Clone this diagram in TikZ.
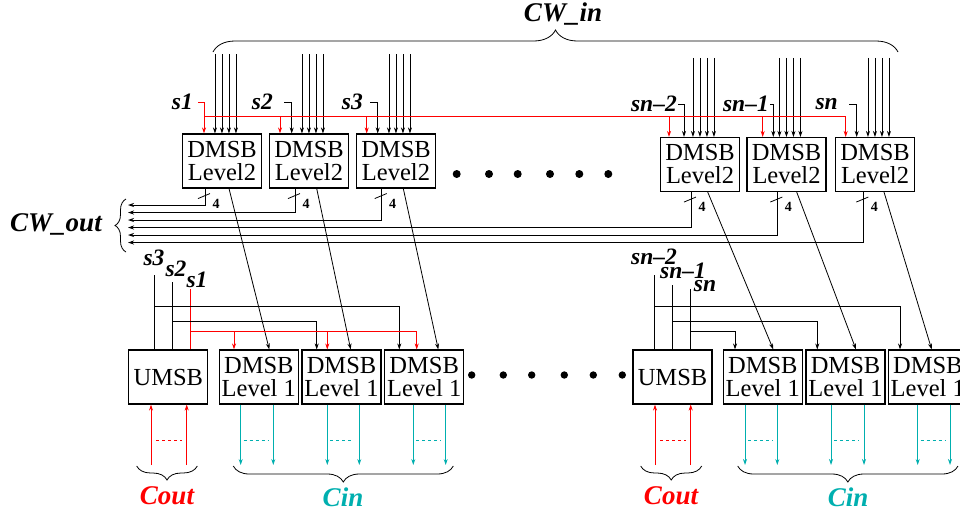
\documentclass[tikz,border=0pt]{standalone}
\usepackage{fontspec}
\setmainfont{Liberation Serif}
\usetikzlibrary{arrows.meta,calc,decorations.pathreplacing}
\definecolor{SelRed}{HTML}{FF0000}
\definecolor{CarryCyan}{HTML}{00AFAF}

\begin{document}
\begin{tikzpicture}[x=1pt,y=-1pt,
    block/.style={draw,line width=1.1pt,minimum width=79pt,minimum height=54pt,
      inner sep=0pt,align=center,font=\fontsize{24.5}{23}\selectfont},
    sel/.style={font=\fontsize{23.5}{24}\selectfont\bfseries\itshape,inner sep=1pt},
    bus/.style={font=\fontsize{27}{28}\selectfont\bfseries\itshape},
    width4/.style={font=\fontsize{14}{14}\selectfont\bfseries,inner sep=0pt},
    wire/.style={line width=0.8pt},
    arrow/.style={wire,-{Stealth[length=6pt,width=4pt]}},
    redarrow/.style={arrow,color=SelRed},
    cinarrow/.style={arrow,color=CarryCyan},
    curly/.style={decorate,decoration={brace,amplitude=#1},line width=0.8pt}
  ]
  \useasboundingbox (0,0) rectangle (960,515);
  \clip (0,0) rectangle (960,515);

  % level 2 blocks
  \node[block] (t1) at (222,161) {DMSB\\Level2};
  \node[block] (t2) at (309,161) {DMSB\\Level2};
  \node[block] (t3) at (396,161) {DMSB\\Level2};
  \node[block] (t4) at (700,164.5) {DMSB\\Level2};
  \node[block] (t5) at (786.5,164.5) {DMSB\\Level2};
  \node[block] (t6) at (875,164.5) {DMSB\\Level2};

  % level 1 blocks
  \node[block] (u1) at (168.3,377) {UMSB};
  \node[block] (d1) at (258.8,377) {DMSB\\Level 1};
  \node[block] (d2) at (341.5,377) {DMSB\\Level 1};
  \node[block] (d3) at (424.2,377) {DMSB\\Level 1};
  \node[block] (u2) at (672.5,377) {UMSB};
  \node[block] (d4) at (762.8,377) {DMSB\\Level 1};
  \node[block] (d5) at (845.5,377) {DMSB\\Level 1};
  \node[block] (d6) at (927.8,377) {DMSB\\Level 1};

  % CW_in bus
  \draw[curly=22] (213,52) -- (898,52);
  \node[bus] (cwin) at (563,14) {CW\textunderscore in};
  \foreach \i in {1,...,6}
    \foreach \d in {33,40,47,54}
      \draw[arrow] ([xshift=\d,yshift=79]t\i.north west) -- ([xshift=\d]t\i.north west);

  % select lines, level 2
  \node[sel,anchor=east] (s1t) at (194,102) {s1};
  \node[sel,anchor=east] (s2t) at (274,102) {s2};
  \node[sel,anchor=east] (s3t) at (364,102) {s3};
  \node[sel,anchor=east] (s4t) at (678,104) {sn–2};
  \node[sel,anchor=east] (s5t) at (770,104) {sn–1};
  \node[sel,anchor=east] (s6t) at (839,104) {sn};
  \coordinate (k1) at (204,0);
  \coordinate (k2) at (291.7,0);
  \coordinate (k3) at (377.7,0);
  \coordinate (k4) at (684,0);
  \coordinate (k5) at (773.3,0);
  \coordinate (k6) at (856.7,0);
  \draw[redarrow] ([xshift=4]s1t.east) -| (k1 |- t1.north);
  \draw[arrow] ([xshift=10]s2t.east) -| (k2 |- t2.north);
  \draw[arrow] ([xshift=6]s3t.east) -| (k3 |- t3.north);
  \draw[arrow] (s4t.east) -| (k4 |- t4.north);
  \draw[arrow] (s5t.east) -| (k5 |- t5.north);
  \draw[arrow] ([xshift=10]s6t.east) -| (k6 |- t6.north);

  \coordinate (rb) at (204,116);
  \coordinate (r2) at (280,0);
  \coordinate (r3) at (366.7,0);
  \coordinate (r4) at (669,0);
  \coordinate (r5) at (762.7,0);
  \coordinate (r6) at (845.7,0);
  \draw[wire,SelRed] (rb) -- (r6 |- rb);
  \foreach \i in {2,...,6}
    \draw[redarrow] (r\i |- rb) -- (r\i |- t\i.north);

  % CW_out bus
  \foreach \i/\x in {1/205,2/295,3/381.7,4/691,5/777.3,6/863.3}{
    \coordinate (o\i) at (\x,0);
    \coordinate (cw\i) at (128,{197.5+7.5*\i});
    \draw[arrow] (o\i |- t\i.south) |- (cw\i);
    \draw[wire] ($(o\i |- t\i.south)+(-7,10)$) -- +(12,-5);
    \node[width4] (four\i) at ($(o\i |- t\i.south)+(11,15)$) {4};
  }
  \draw[curly=11] (126,252) -- (126,199);
  \node[bus] (cwout) at (56,224) {CW\textunderscore out};

  % level 2 to level 1
  \foreach \i/\a/\b in {1/229/269.3,2/316.7/350.7,3/403.3/438.3,
                        4/707.7/773.3,5/796.7/856,6/884/931.7}{
    \coordinate (ga) at (\a,0);
    \coordinate (gb) at (\b,0);
    \draw[arrow] (ga |- t\i.south) -- (gb |- d\i.north);
  }

  % select lines, level 1 (left)
  \node[sel] (b3) at (154,258) {s3};
  \node[sel] (b2) at (176,269) {s2};
  \node[sel] (b1) at (197,280) {s1};
  \coordinate (v3) at (154.3,275);
  \coordinate (v2) at (172.3,282);
  \coordinate (v1) at (190,289);
  \draw[wire] (v3) -- (v3 |- u1.north);
  \draw[wire] (v2) -- (v2 |- u1.north);
  \draw[wire,SelRed] (v1) -- (v1 |- u1.north);
  \coordinate (j3) at (154.3,306.7);
  \coordinate (j2) at (172.3,321);
  \coordinate (j1) at (190,331.7);
  \coordinate (e3) at (399.3,0);
  \coordinate (e2) at (316.7,0);
  \coordinate (e1a) at (234,0);
  \coordinate (e1b) at (327.3,0);
  \coordinate (e1c) at (416.7,0);
  \draw[arrow] (j3) -| (e3 |- d3.north);
  \draw[arrow] (j2) -| (e2 |- d2.north);
  \draw[redarrow] (j1) -| (e1c |- d3.north);
  \draw[redarrow] (e1a |- j1) -- (e1a |- d1.north);
  \draw[redarrow] (e1b |- j1) -- (e1b |- d2.north);

  % select lines, level 1 (right)
  \node[sel] (c3) at (654,257) {sn–2};
  \node[sel] (c2) at (683,271) {sn–1};
  \node[sel] (c1) at (705,286) {sn};
  \coordinate (w3) at (654.3,275);
  \coordinate (w2) at (672.7,285);
  \coordinate (w1) at (690.7,289);
  \draw[wire] (w3) -- (w3 |- u2.north);
  \draw[wire] (w2) -- (w2 |- u2.north);
  \draw[wire] (w1) -- (w1 |- u2.north);
  \coordinate (i3) at (654.3,306.7);
  \coordinate (i2) at (672.7,321);
  \coordinate (i1) at (690.7,331.7);
  \coordinate (f3) at (900,0);
  \coordinate (f2) at (817.3,0);
  \coordinate (f1) at (735,0);
  \draw[arrow] (i3) -| (f3 |- d6.north);
  \draw[arrow] (i2) -| (f2 |- d5.north);
  \draw[arrow] (i1) -| (f1 |- d4.north);

  % carry out / carry in
  \foreach \b/\xa/\xb in {u1/151/186.7,u2/655/690.7}{
    \coordinate (pa) at (\xa,465);
    \coordinate (pb) at (\xb,465);
    \draw[redarrow] (pa) -- (pa |- \b.south);
    \draw[redarrow] (pb) -- (pb |- \b.south);
    \draw[wire,SelRed,dashed] (\xa+5,440) -- (\xb-5,440);
  }
  \foreach \b/\xa/\xb in {d1/240.7/273.3,d2/327.3/359.3,d3/413.3/445.7,
                          d4/745/777.3,d5/831/864,d6/917.7/950}{
    \coordinate (pa) at (\xa,465);
    \coordinate (pb) at (\xb,465);
    \draw[cinarrow] (pa |- \b.south) -- (pa);
    \draw[cinarrow] (pb |- \b.south) -- (pb);
    \draw[wire,CarryCyan,dashed] (\xa+3,440) -- (\xb-5,440);
  }
  \draw[curly=14] (197.3,466) -- (136.7,466);
  \draw[curly=16] (453.3,466) -- (233.3,466);
  \draw[curly=14] (701.7,466) -- (640.7,466);
  \draw[curly=16] (958,466) -- (737.7,466);
  \node[bus,SelRed] (cout1) at (167,496) {Cout};
  \node[bus,CarryCyan] (cin1) at (343,497) {Cin};
  \node[bus,SelRed] (cout2) at (671,496) {Cout};
  \node[bus,CarryCyan] (cin2) at (848,497) {Cin};

  % dots
  \foreach \x in {456.7,489,517.7,550,579.3,608.3}
    \fill (\x,174) circle (4);
  \foreach \x in {471.7,503.3,531.7,564.3,593.3,622.3}
    \fill (\x,375) circle (3.7);
\end{tikzpicture}
\end{document}
